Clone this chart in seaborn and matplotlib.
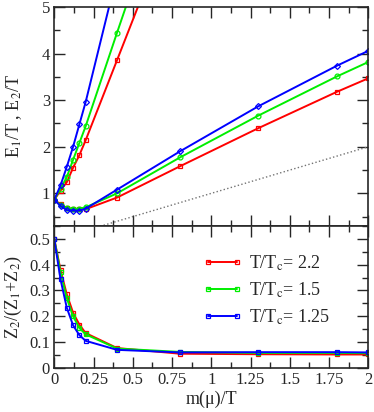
import numpy as np
import pandas as pd
import matplotlib
matplotlib.use("Agg")
import matplotlib.pyplot as plt
import seaborn as sns
from matplotlib.ticker import MultipleLocator

# ==============================
# Data
# ==============================
x = [0, 0.04, 0.08, 0.12, 0.16, 0.2, 0.4, 0.8, 1.3, 1.8, 2.0]
x_e2 = [0, 0.04, 0.08, 0.12, 0.16, 0.2, 0.4, 0.8]

temps = ["2.2", "1.5", "1.25"]

# lower branch E1/T
e1_22 = [0.86, 0.77, 0.68, 0.66, 0.66, 0.66, 0.91, 1.58, 2.40, 3.18, 3.47]
e1_15 = [0.86, 0.75, 0.68, 0.67, 0.67, 0.70, 1.00, 1.77, 2.67, 3.51, 3.82]
e1_125 = [0.86, 0.73, 0.64, 0.63, 0.63, 0.67, 1.08, 1.90, 2.87, 3.74, 4.06]

# steep branch E2/T
e2_22 = [0.86, 1.06, 1.24, 1.55, 1.82, 2.14, 3.86, 7.3]
e2_15 = [0.86, 1.10, 1.35, 1.72, 2.08, 2.44, 4.45, 8.4]
e2_125 = [0.86, 1.17, 1.57, 2.00, 2.48, 2.96, 5.7, 11.0]

# Z2/(Z1+Z2)
z_22 = [0.5, 0.38, 0.285, 0.214, 0.168, 0.135, 0.077, 0.055, 0.053, 0.052, 0.052]
z_15 = [0.5, 0.37, 0.27, 0.20, 0.155, 0.13, 0.075, 0.062, 0.058, 0.058, 0.057]
z_125 = [0.5, 0.343, 0.233, 0.165, 0.127, 0.105, 0.07, 0.06, 0.061, 0.061, 0.06]

# reference line y = x
x_diag = [0, 2]
y_diag = [0, 2]

colors = ["#ff0000", "#00ee00", "#0000ff"]
top_markers = ["s", "o", "D"]

# ==============================
# Style
# ==============================
sns.set_style("ticks")
plt.rcParams["font.family"] = ["Liberation Serif", "DejaVu Serif"]
plt.rcParams["mathtext.fontset"] = "stix"
plt.rcParams["xtick.direction"] = "in"
plt.rcParams["ytick.direction"] = "in"

fig, (ax1, ax2) = plt.subplots(
    2, 1, figsize=(3.74, 4.12), dpi=100, sharex=True,
    gridspec_kw={"height_ratios": [219, 142], "hspace": 0},
)
fig.subplots_adjust(left=0.145, right=0.985, top=0.983, bottom=0.107)


def draw(ax, xs, ys, color, marker, ms, label=None):
    df = pd.DataFrame({"x": xs, "y": ys})
    sns.lineplot(data=df, x="x", y="y", ax=ax, color=color, lw=1.4,
                 marker=marker, ms=ms, mfc="none", mec=color, mew=0.9,
                 estimator=None, sort=False, label=label, legend=False)


# ==============================
# Top panel
# ==============================
ax1.plot(x_diag, y_diag, ls=":", color="0.45", lw=1.0)
for e1, e2, c, m in zip([e1_22, e1_15, e1_125], [e2_22, e2_15, e2_125], colors, top_markers):
    ms = 3.0 if m == "D" else 3.5
    draw(ax1, x, e1, c, m, ms)
    draw(ax1, x_e2, e2, c, m, ms)

ax1.set_ylim(0.3, 5)
ax1.set_ylabel("E$_1$/T , E$_2$/T", fontsize=13)
ax1.yaxis.set_major_locator(MultipleLocator(1))
ax1.yaxis.set_minor_locator(MultipleLocator(0.5))

# ==============================
# Bottom panel
# ==============================
for z, c, t in zip([z_22, z_15, z_125], colors, temps):
    draw(ax2, x, z, c, "s", 3.5, label="T/T$_\\mathrm{c}$= " + t)

ax2.set_ylim(0, 0.55)
ax2.set_xlim(0, 2)
ax2.yaxis.set_major_locator(MultipleLocator(0.1))
ax2.yaxis.set_minor_locator(MultipleLocator(0.05))
ax2.set_yticks([0, 0.1, 0.2, 0.3, 0.4, 0.5])
ax2.set_yticklabels(["0", "0.1", "0.2", "0.3", "0.4", "0.5"])
ax2.xaxis.set_major_locator(MultipleLocator(0.25))
ax2.xaxis.set_minor_locator(MultipleLocator(0.125))
ax2.set_xticks([0, 0.25, 0.5, 0.75, 1, 1.25, 1.5, 1.75, 2])
ax2.set_xticklabels(["0", "0.25", "0.5", "0.75", "1", "1.25", "1.5", "1.75", "2"])
ax2.set_xlabel("m(\u03bc)/T", fontsize=13, labelpad=2)
ax2.set_ylabel("Z$_2$/(Z$_1$+Z$_2$)", fontsize=13)

leg = ax2.legend(loc="upper left", bbox_to_anchor=(0.448, 0.858), frameon=False,
                 fontsize=13, numpoints=2, handlelength=2.2, handletextpad=0.4,
                 labelspacing=0.43, borderaxespad=0)

for ax in (ax1, ax2):
    ax.tick_params(which="both", direction="in", top=True, right=True,
                   labelsize=12, pad=3)
    ax.tick_params(which="major", length=8, width=1.0)
    ax.tick_params(which="minor", length=4, width=1.0)
    for s in ax.spines.values():
        s.set_linewidth(1.2)
    ax.set_xlim(0, 2)
ax1.tick_params(labelbottom=False)
ax1.xaxis.set_minor_locator(MultipleLocator(0.125))

fig.align_ylabels([ax1, ax2])
fig.savefig("out.png", dpi=100)
